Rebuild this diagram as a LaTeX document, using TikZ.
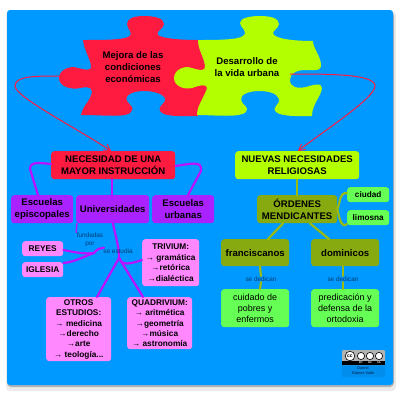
\documentclass[tikz,border=0pt]{standalone}
\usepackage{fontspec}
\setmainfont{Liberation Sans}
\usetikzlibrary{arrows.meta}
\definecolor{mapblue}{HTML}{0099FF}
\definecolor{mapred}{HTML}{FF1A40}
\definecolor{maplime}{HTML}{B3FF00}
\definecolor{mappurple}{HTML}{AA22FF}
\definecolor{mappink}{HTML}{FF88FF}
\definecolor{mapolive}{HTML}{88AA11}
\definecolor{mapgreen}{HTML}{66FF55}
\definecolor{mapwire}{HTML}{BB11FF}
\definecolor{mapstem}{HTML}{99BB11}
\definecolor{mapink}{HTML}{003A70}
\tikzset{
  mapbox/.style={rounded corners=3pt, align=center, inner sep=0pt, font=\bfseries, anchor=north west},
  redbox/.style={mapbox, fill=mapred, font=\bfseries\fontsize{9.6}{12}\selectfont},
  limebox/.style={mapbox, fill=maplime, font=\bfseries\fontsize{9.6}{12}\selectfont},
  purplebox/.style={mapbox, fill=mappurple, font=\bfseries\fontsize{9.6}{12}\selectfont},
  pinkbox/.style={mapbox, fill=mappink, font=\bfseries\fontsize{8.3}{10.4}\selectfont},
  olivebox/.style={mapbox, fill=mapolive, font=\bfseries\fontsize{9.6}{12}\selectfont},
  greenbox/.style={mapbox, fill=mapgreen, font=\bfseries\fontsize{8.2}{10.4}\selectfont},
  plainbox/.style={mapbox, fill=mapgreen, font=\fontsize{9}{10.6}\selectfont},
  puzzletext/.style={align=center, font=\bfseries\fontsize{9.6}{11.8}\selectfont},
  linktext/.style={align=center, text=mapink, font=\fontsize{6.4}{8}\selectfont, inner sep=0.5pt},
  wire/.style={draw=mapwire, line width=2.2pt, line cap=round},
  thinwire/.style={draw=mapwire, line width=1.4pt, line cap=round},
  stem/.style={draw=mapstem, line width=2.2pt, line cap=round},
  puzzlearrow/.style={draw=mapred, line width=1pt, -{Straight Barb[length=6pt,width=7pt]}},
}
\newcommand{\boxnode}[6]{% style, name, x1, y1, x2, y2 come before the text
  \node[#1, minimum width=#5pt-#3pt, minimum height=#6pt-#4pt] (#2) at (#3,#4)}
\begin{document}
\begin{tikzpicture}[x=1pt, y=-1pt]
    \useasboundingbox (0,0) rectangle (400,400);
    % panel and its shadow
    \fill[black!8, rounded corners=4pt] (6,11) rectangle (396,391);
    \fill[black!30, rounded corners=4pt] (7,12) rectangle (394,387);
    \fill[mapblue, rounded corners=3pt] (7,10) rectangle (393,385);

    % red piece
    \fill[mapred] (83,40) .. controls (100,40) and (122,40) .. (128,37)
      .. controls (135,33) and (127,30) .. (127,24)
      .. controls (127,18) and (135,16) .. (144,16)
      .. controls (154,16) and (164,18) .. (164,24)
      .. controls (164,29) and (155,31) .. (158,35)
      .. controls (163,39) and (185,40) .. (198,40)
      .. controls (200,50) and (204,60) .. (206,68)
      -- (207,88)
      .. controls (206,95) and (198,105) .. (198,116)
      .. controls (185,116) and (168,117) .. (162,113)
      .. controls (156,108) and (162,106) .. (165,101)
      .. controls (167,95) and (155,91) .. (144,91)
      .. controls (133,91) and (124,95) .. (127,101)
      .. controls (130,106) and (135,107) .. (131,112)
      .. controls (127,118) and (105,115) .. (81,115)
      .. controls (83,105) and (90,102) .. (92,92)
      .. controls (92,86) and (85,87) .. (80,88)
      .. controls (72,90) and (59,87) .. (59,78)
      .. controls (59,70) and (70,65) .. (78,68)
      .. controls (86,70) and (92,71) .. (91,66)
      .. controls (90,58) and (84,50) .. (83,40) -- cycle;
    % lime piece
    \fill[maplime] (198,40) .. controls (215,40) and (238,40) .. (243,36)
      .. controls (249,31) and (240,28) .. (240,23)
      .. controls (240,18) and (250,16) .. (260,16)
      .. controls (270,16) and (279,18) .. (279,24)
      .. controls (279,29) and (270,31) .. (274,35)
      .. controls (280,40) and (300,41) .. (313,41)
      .. controls (313,48) and (320,55) .. (321,64)
      .. controls (322,72) and (313,70) .. (305,70)
      .. controls (296,70) and (290,74) .. (290,80)
      .. controls (290,87) and (297,89) .. (306,87)
      .. controls (313,85) and (322,82) .. (322,88)
      .. controls (321,97) and (312,104) .. (312,116)
      .. controls (300,116) and (282,117) .. (276,112)
      .. controls (271,107) and (281,104) .. (279,99)
      .. controls (277,93) and (268,91) .. (259,91)
      .. controls (250,91) and (240,94) .. (241,100)
      .. controls (242,105) and (250,107) .. (246,112)
      .. controls (240,118) and (215,115) .. (197,115)
      .. controls (197,105) and (205,96) .. (207,88)
      .. controls (207,83) and (198,86) .. (192,88)
      .. controls (184,90) and (174,86) .. (174,78)
      .. controls (174,70) and (184,65) .. (192,68)
      .. controls (198,70) and (206,72) .. (205,66)
      .. controls (204,57) and (198,50) .. (198,40) -- cycle;
    \node[puzzletext] (mejora) at (133,67) {Mejora de las\\condiciones\\económicas};
    \node[puzzletext] (desarrollo) at (247,67) {Desarrollo de\\la vida urbana};

    % boxes
    \boxnode{redbox}{necesidad}{51}{151}{175}{179} {NECESIDAD DE UNA\\MAYOR INSTRUCCIÓN};
    \boxnode{limebox}{nuevas}{235}{151}{359}{179} {NUEVAS NECESIDADES\\RELIGIOSAS};
    \boxnode{purplebox}{episcopales}{11}{195}{73}{223} {Escuelas\\episcopales};
    \boxnode{purplebox}{universidades}{76}{195}{149}{223} {Universidades};
    \boxnode{purplebox}{urbanas}{152}{195}{214}{223} {Escuelas\\urbanas};
    \boxnode{pinkbox}{reyes}{22}{241}{63}{256} {REYES};
    \boxnode{pinkbox}{iglesia}{22}{262}{63}{277} {IGLESIA};
    \boxnode{pinkbox}{trivium}{142}{239}{199}{286} {TRIVIUM:\\→ gramática\\→retórica\\→dialéctica};
    \boxnode{pinkbox}{otros}{46}{297}{111}{361} {OTROS\\ESTUDIOS:\\→ medicina\\→derecho\\→arte\\→ teología...};
    \boxnode{pinkbox}{quadrivium}{127}{297}{192}{349} {QUADRIVIUM:\\→ aritmética\\→geometría\\→música\\→ astronomía};
    \boxnode{olivebox}{ordenes}{257}{195}{337}{223} {ÓRDENES\\MENDICANTES};
    \boxnode{greenbox}{ciudad}{347}{187}{389}{202} {ciudad};
    \boxnode{greenbox}{limosna}{347}{210}{389}{225} {limosna};
    \boxnode{olivebox}{franciscanos}{221}{239}{289}{266} {franciscanos};
    \boxnode{olivebox}{dominicos}{311}{239}{379}{266} {dominicos};
    \boxnode{plainbox}{cuidado}{221}{289}{289}{327} {cuidado de\\pobres y\\enfermos};
    \boxnode{plainbox}{predicacion}{311}{289}{379}{327} {predicación y\\defensa de la\\ortodoxia};

    % connectors
    \coordinate (forkleft) at (94,253);
    \coordinate (forkright) at (119,258);
    \coordinate (redtab) at (59,76);
    \coordinate (limetab) at (290,74);
    \draw[puzzlearrow] (redtab) .. controls (35,76) and (15,76) .. (15,86)
      .. controls (15,97) and (80,130) .. (necesidad.north-|111,0);
    \draw[puzzlearrow] (limetab) .. controls (330,74) and (375,74) .. (375,86)
      .. controls (375,98) and (325,130) .. (nuevas.north-|298,0);
    \draw[wire] (necesidad.west|-0,164) .. controls (40,163) and (30,161) .. (30,169) -- (episcopales.north-|38,0);
    \draw[wire] (necesidad.east|-0,166) .. controls (190,164) and (203,160) .. (201,171) -- (urbanas.north-|188,0);
    \draw[wire] (necesidad.south-|112,0) -- (universidades.north-|112,0);
    \draw[wire] (universidades.south-|113,0) .. controls (115,235) and (119,245) .. (forkright);
    \draw[wire] (forkright) .. controls (122,266) and (130,264) .. (trivium.west|-0,260);
    \draw[wire] (forkright) -- (otros.north-|97,0);
    \draw[wire] (forkright) -- (quadrivium.north-|143,0);
    \draw[wire] (reyes.east|-0,250) .. controls (78,253) and (85,254) .. (forkleft);
    \draw[wire] (iglesia.east|-0,263) .. controls (75,262) and (85,256) .. (forkleft);
    \draw[stem] (nuevas.south-|297,0) -- (ordenes.north-|297,0);
    \draw[stem] (ordenes.east|-0,209) .. controls (341,200) and (339,193) .. (ciudad.west|-0,193);
    \draw[stem] (ordenes.east|-0,209) .. controls (340,222) and (342,228) .. (limosna.west|-0,224);
    \draw[stem] (ordenes.south-|283,0) -- (franciscanos.north-|268,0);
    \draw[stem] (ordenes.south-|310,0) -- (dominicos.north-|329,0);

    % small labels
    \node[linktext] (fundadas) at (90,240) {fundadas\\por};
    \node[linktext] (estudia) at (118,251) {se estudia};
    \node[linktext] (dedicanf) at (261,279) {se dedican};
    \node[linktext] (dedicand) at (343,279) {se dedican};
    \draw[thinwire] (universidades.south-|77,0) -- (fundadas.north west);
    \draw[wire] (fundadas.south east) .. controls (96,249) and (96,251) .. (forkleft);
    \draw[stem] (franciscanos.south-|260,0) -- (dedicanf.north);
    \draw[stem] (dedicanf.south) -- (cuidado.north-|260,0);
    \draw[stem] (dominicos.south-|343,0) -- (dedicand.north);
    \draw[stem] (dedicand.south) -- (predicacion.north-|343,0);

    % licence badge
    \fill[black!8!mapblue, rounded corners=1pt] (342,365) rectangle (385,377);
    \fill[black!30, rounded corners=1pt] (342,350) rectangle (385,365);
    \fill[black] (342,361) rectangle (385,365);
    \foreach \i/\r in {350/4.8,361/3.6,370/3.6,379/3.6}{
      \filldraw[draw=black, fill=white, line width=0.6pt] (\i,356) circle[radius=\r];
    }
    \node[font=\bfseries\fontsize{5}{5}\selectfont, inner sep=0pt] (ccmark) at (350,356) {cc};
    \foreach \i/\t in {361/BY,370/NC,379/SA}{
      \node[text=white, font=\bfseries\fontsize{2.6}{3}\selectfont, inner sep=0pt] (cc\t) at (\i,363) {\t};
    }
    \node[text=mapink, align=center, font=\bfseries\fontsize{3.8}{5}\selectfont, inner sep=0pt] (autor) at (363,371) {Daniel\\Gómez Valle};
  \end{tikzpicture}
\end{document}
